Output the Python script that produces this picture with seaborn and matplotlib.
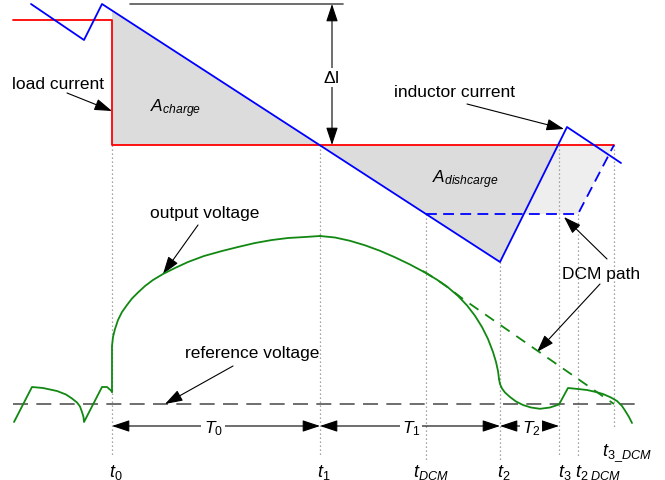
import numpy as np
import pandas as pd
import matplotlib
matplotlib.use("Agg")
import matplotlib.pyplot as plt
import seaborn as sns

sns.set_theme(style="white")
plt.rcParams["font.family"] = ["Liberation Sans", "DejaVu Sans"]
plt.rcParams["text.color"] = "black"
plt.rcParams["mathtext.fontset"] = "custom"
plt.rcParams["mathtext.rm"] = "Liberation Sans"
plt.rcParams["mathtext.it"] = "Liberation Sans:italic"
plt.rcParams["mathtext.bf"] = "Liberation Sans:bold"

# ── diagram data (pixel space of the sketch, y grows downward) ──
load_x = [13, 112, 112, 614]
load_y = [21, 21, 146, 146]

ind_x = [31, 84, 102, 500, 567, 621]
ind_y = [5, 41, 5, 263, 128, 164]

dcm_x = [426, 578, 614]
dcm_y = [215, 215, 146]

charge_x = [112, 320, 112]
charge_y = [12, 146, 146]
discharge_x = [320, 500, 558]
discharge_y = [146, 263, 146]
dcm_fill_x = [524, 558, 614, 578]
dcm_fill_y = [215, 146, 146, 215]

# output voltage, solid pieces
vout_a_x = [14, 32, 43, 57, 66, 72, 77, 80, 82, 83.5, 84, 102, 107, 111, 112]
vout_a_y = [423, 388, 389, 392, 395.5, 399.5, 403.5, 407.5, 413, 418, 423,
            388, 388, 391.5, 393]
vout_b_x = [112, 112, 113, 115, 118, 122, 127, 132, 138, 145, 153, 163, 175,
            188, 204, 222, 238, 255, 272, 288, 305, 320]
vout_b_y = [393, 347, 338, 330, 321, 313, 306, 299.5, 293.5, 287, 281, 275, 269,
            263, 257, 252, 248, 244, 241, 239, 238, 237]
vout_c_x = [320, 335, 350, 365, 380, 395, 410, 425, 437, 448, 458, 467, 475,
            482, 488, 493, 496, 498, 499]
vout_c_y = [237, 238.5, 241.8, 246.3, 251.8, 258.3, 265.5, 273.5, 280.7, 288.4,
            296.9, 306.4, 316.8, 328, 340, 353, 363, 372, 380]
vout_d_x = [499, 500, 502, 505, 510, 516, 523, 531, 540, 550, 559, 568, 578,
            587, 596, 603, 611, 617, 622, 625, 629, 632]
vout_d_y = [380, 385, 389.5, 393.5, 398, 402.5, 406, 408.5, 409.8, 408.5, 405.5,
            389, 390, 391, 393, 395, 398.5, 402, 407, 411.5, 418, 424]
# DCM path of the output voltage
vdcm_x = [423, 437, 448, 463, 614]
vdcm_y = [272, 280.7, 288.4, 300, 405]

ref_x = [13, 643]
ref_y = [405, 405]

# time markers: x, top of dotted line, bottom of dotted line
t_x = [112, 320, 426, 500, 559, 578, 614]
t_top = [146, 146, 215, 263, 146, 215, 146]
t_bot = [458, 458, 462, 462, 458, 458, 430]
t_labels = [r"$t_{\mathit{0}}$", r"$t_{\mathit{1}}$", r"$t_{\mathit{DCM}}$",
            r"$t_{\mathit{2}}$", r"$t_{\mathit{3}}$", r"$t_{\mathit{2\ DCM}}$",
            r"$t_{\mathit{3\_DCM}}$"]
t_lab_x = [109, 317, 413, 497, 558, 575, 602]
t_lab_y = [477, 477, 477, 477, 477, 477, 456]

# interval arrows
span_start = [112, 320, 500]
span_end = [320, 500, 559]
span_labels = [r"$T_{\mathit{0}}$", r"$T_{\mathit{1}}$", r"$T_{\mathit{2}}$"]
span_lab_x = [213, 411, 531]
span_y = 427

RED, BLUE, GREEN = "#ff0000", "#0000ff", "#118811"
FS = 12.5

fig = plt.figure(figsize=(6.65, 4.81), dpi=100)
ax = fig.add_axes([0, 0, 1, 1])
ax.set_xlim(0, 665)
ax.set_ylim(481, 0)
ax.axis("off")

# ── areas ────────────────────────────────────────────────────
ax.fill(charge_x, charge_y, color="#dcdcdc", lw=0, zorder=1)
ax.fill(discharge_x, discharge_y, color="#dcdcdc", lw=0, zorder=1)
ax.fill(dcm_fill_x, dcm_fill_y, color="#eeeeee", lw=0, zorder=1)

# ── dotted time markers ──────────────────────────────────────
for x, y0, y1 in zip(t_x, t_top, t_bot):
    ax.plot([x, x], [y0, y1], color="#888888", lw=0.9,
            linestyle=(0, (1, 2.2)), zorder=2)

# ── currents ─────────────────────────────────────────────────
sns.lineplot(x=load_x, y=load_y, sort=False, estimator=None, ax=ax,
             color=RED, lw=1.3, zorder=4)
sns.lineplot(x=ind_x, y=ind_y, sort=False, estimator=None, ax=ax,
             color=BLUE, lw=1.3, zorder=5)
sns.lineplot(x=dcm_x, y=dcm_y, sort=False, estimator=None, ax=ax,
             color=BLUE, lw=1.3, linestyle=(0, (6, 3.5)), zorder=5)

# ── voltages ─────────────────────────────────────────────────
sns.lineplot(x=ref_x, y=ref_y, sort=False, estimator=None, ax=ax,
             color="#555555", lw=1.2, linestyle=(0, (9, 5)), zorder=3)
for vx, vy in [(vout_a_x, vout_a_y), (vout_b_x, vout_b_y),
               (vout_c_x, vout_c_y), (vout_d_x, vout_d_y)]:
    sns.lineplot(x=vx, y=vy, sort=False, estimator=None, ax=ax,
                 color=GREEN, lw=1.3, zorder=4)
sns.lineplot(x=vdcm_x, y=vdcm_y, sort=False, estimator=None, ax=ax,
             color=GREEN, lw=1.3, linestyle=(0, (6, 4.5)), zorder=4)

# ── delta I marker ───────────────────────────────────────────
ax.plot([130, 343], [5, 5], color="#555555", lw=1.2, zorder=3)
ax.annotate("", xy=(332, 5), xytext=(332, 146),
            arrowprops=dict(arrowstyle="<|-|>,head_length=0.9,head_width=0.3",
                            color="black", lw=0.8, shrinkA=0, shrinkB=0))
ax.text(332, 83, "ΔI", fontsize=FS, ha="center", va="baseline",
        bbox=dict(facecolor="white", edgecolor="none", pad=1.5), zorder=6)

# ── interval arrows ──────────────────────────────────────────
for x0, x1, lab, lx in zip(span_start, span_end, span_labels, span_lab_x):
    ax.annotate("", xy=(x1, span_y), xytext=(x0, span_y),
                arrowprops=dict(arrowstyle="<|-|>,head_length=0.9,head_width=0.3",
                                color="black", lw=0.8, shrinkA=0, shrinkB=0))
    ax.text(lx, 433, lab, fontsize=FS, ha="center", va="baseline",
            bbox=dict(facecolor="white", edgecolor="none", pad=1.5), zorder=6)

for lab, lx, ly in zip(t_labels, t_lab_x, t_lab_y):
    ax.text(lx, ly, lab, fontsize=FS + 0.5, ha="left", va="baseline")

# ── area labels ──────────────────────────────────────────────
ax.text(150, 112, r"$A_{charge}$", fontsize=FS, ha="left", va="baseline", zorder=6)
ax.text(432, 183, r"$A_{dishcarge}$", fontsize=FS, ha="left", va="baseline", zorder=6)

# ── callouts ─────────────────────────────────────────────────
arrow_kw = dict(arrowstyle="-|>,head_length=0.9,head_width=0.3",
                color="black", lw=0.8, shrinkA=0, shrinkB=0)
ax.text(12, 89, "load current", fontsize=FS, ha="left", va="baseline")
ax.annotate("", xy=(112, 112), xytext=(67, 94), arrowprops=arrow_kw)
ax.text(394, 97, "inductor current", fontsize=FS, ha="left", va="baseline")
ax.annotate("", xy=(564, 130), xytext=(467, 105), arrowprops=arrow_kw)
ax.text(150, 218, "output voltage", fontsize=FS, ha="left", va="baseline")
ax.annotate("", xy=(163, 275), xytext=(198, 226), arrowprops=arrow_kw)
ax.text(185, 358, "reference voltage", fontsize=FS, ha="left", va="baseline")
ax.annotate("", xy=(165, 405), xytext=(233, 367), arrowprops=arrow_kw)
ax.text(562, 279, "DCM path", fontsize=FS, ha="left", va="baseline")
ax.annotate("", xy=(564, 218), xytext=(607, 260), arrowprops=arrow_kw)
ax.annotate("", xy=(537, 353), xytext=(600, 285), arrowprops=arrow_kw)

fig.savefig("out.png", dpi=100)
